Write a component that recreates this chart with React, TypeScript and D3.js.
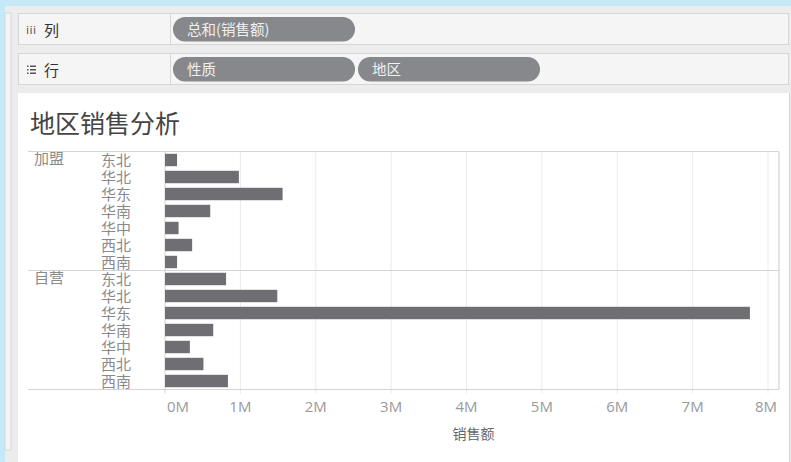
import React from "react";
import * as d3 from "d3";

const groups = ["加盟", "自营"];
const regions = ["东北", "华北", "华东", "华南", "华中", "西北", "西南"];
const salesJiameng = [0.16, 0.98, 1.56, 0.6, 0.18, 0.36, 0.16];
const salesZiying = [0.81, 1.49, 7.76, 0.64, 0.33, 0.51, 0.835];
const tickValues = [0, 1, 2, 3, 4, 5, 6, 7, 8];
const title = "地区销售分析";
const axisTitle = "销售额";
const colShelf = ["总和(销售额)"];
const rowShelf = ["性质", "地区"];

const CJK = "'Noto Sans CJK SC', 'Noto Sans', sans-serif";

export default function App() {
  const W = 791, H = 462;
  const frameL = 28, frameR = 779, frameT = 151.5, frameB = 389.5;
  const x = d3.scaleLinear().domain([0, 8]).range([165, 768]);
  const gy = d3.scaleBand<string>().domain(groups).range([frameT, frameB]);
  const ry = d3
    .scaleBand<string>()
    .domain(regions)
    .range([0, gy.bandwidth()])
    .paddingInner(0.27)
    .paddingOuter(0.135);
  const seriesByGroup = [salesJiameng, salesZiying];

  return (
    <svg
      width={W}
      height={H}
      style={{ position: "absolute", left: 0, top: 0, display: "block" }}
      fontFamily={CJK}
    >
      {/* background */}
      <rect x={0} y={0} width={W} height={H} fill="#c6e9f8" />
      <rect x={5} y={6} width={W - 5} height={H - 6} fill="#ececec" />
      {/* left strip panel */}
      <rect x={5} y={13} width={6} height={437} fill="#f4f4f4" stroke="#d6d6d6" strokeWidth={1} />

      {/* shelves */}
      <rect x={18.5} y={13.5} width={770} height={31} fill="#f5f5f5" stroke="#d6d6d6" />
      <line x1={170.5} x2={170.5} y1={13.5} y2={44.5} stroke="#d6d6d6" />
      <rect x={18.5} y={53.5} width={770} height={31} fill="#f5f5f5" stroke="#d6d6d6" />
      <line x1={170.5} x2={170.5} y1={53.5} y2={84.5} stroke="#d6d6d6" />

      <text x={26} y={34} fontSize={11} fill="#555" fontFamily="'DejaVu Sans', sans-serif" letterSpacing={0.5}>iii</text>
      <text x={44} y={36} fontSize={15} fill="#333">列</text>
      {[0, 1, 2].map((i) => (
        <g key={i}>
          <rect x={27} y={65.5 + i * 3.5} width={1.5} height={1.5} fill="#555" />
          <rect x={30} y={65.5 + i * 3.5} width={6} height={1.5} fill="#555" />
        </g>
      ))}
      <text x={44} y={76} fontSize={15} fill="#333">行</text>

      {colShelf.map((t, i) => (
        <g key={t}>
          <rect x={173 + i * 185} y={17} width={182} height={24.5} rx={12.25} fill="#87888c" />
          <text x={187 + i * 185} y={35} fontSize={14.5} fill="#f0f0f0">{t}</text>
        </g>
      ))}
      {rowShelf.map((t, i) => (
        <g key={t}>
          <rect x={173 + i * 185} y={57} width={182} height={24.5} rx={12.25} fill="#87888c" />
          <text x={187 + i * 185} y={75} fontSize={14.5} fill="#f0f0f0">{t}</text>
        </g>
      ))}

      {/* main panel */}
      <rect x={18} y={93} width={771} height={H - 93} fill="#ffffff" />
      <line x1={789.5} x2={789.5} y1={93} y2={H} stroke="#d6d6d6" />

      <text x={30} y={133} fontSize={25} fill="#444">{title}</text>

      {/* gridlines */}
      {tickValues.map((t) => (
        <line
          key={t}
          x1={x(t)}
          x2={x(t)}
          y1={frameT}
          y2={frameB + 4}
          stroke={t === 0 ? "#d2d2d2" : "#ebebeb"}
          strokeWidth={1}
        />
      ))}

      {/* bars */}
      {groups.map((g, gi) => (
        <g key={g} transform={`translate(0,${gy(g)})`}>
          {regions.map((r, ri) => (
            <rect
              key={r}
              x={x(0)}
              y={ry(r)}
              width={x(seriesByGroup[gi][ri]) - x(0)}
              height={ry.bandwidth()}
              fill="#6f6f73"
            />
          ))}
          {regions.map((r) => (
            <text
              key={r}
              x={101}
              y={(ry(r) as number) + ry.step() / 2 - 1.5}
              dy="0.36em"
              fontSize={15}
              fill="#8a8a8a"
            >
              {r}
            </text>
          ))}
          <text x={34} y={ry.step() / 2 - 1.5} dy="0.36em" fontSize={15} fill="#8a8a8a">
            {g}
          </text>
        </g>
      ))}

      {/* frame */}
      {groups.map((g) => (
        <line key={g} x1={frameL} x2={frameR} y1={gy(g)} y2={gy(g)} stroke="#d4d4d4" strokeWidth={1.2} />
      ))}
      <line x1={frameL} x2={frameR} y1={frameB} y2={frameB} stroke="#d4d4d4" strokeWidth={1.2} />
      <line x1={frameR} x2={frameR} y1={frameT} y2={frameB} stroke="#d4d4d4" strokeWidth={1.2} />

      {/* axis labels */}
      {tickValues.map((t) => (
        <text
          key={t}
          x={t === 0 ? x(t) + 2 : x(t) - (t === 8 ? 2 : 0)}
          y={412}
          textAnchor={t === 0 ? "start" : "middle"}
          fontSize={15}
          fill="#9a9a9a"
          fontFamily="'Open Sans', sans-serif"
        >
          {`${t}M`}
        </text>
      ))}
      <text x={x(4) + 7} y={439} textAnchor="middle" fontSize={14} fill="#666">
        {axisTitle}
      </text>
    </svg>
  );
}
